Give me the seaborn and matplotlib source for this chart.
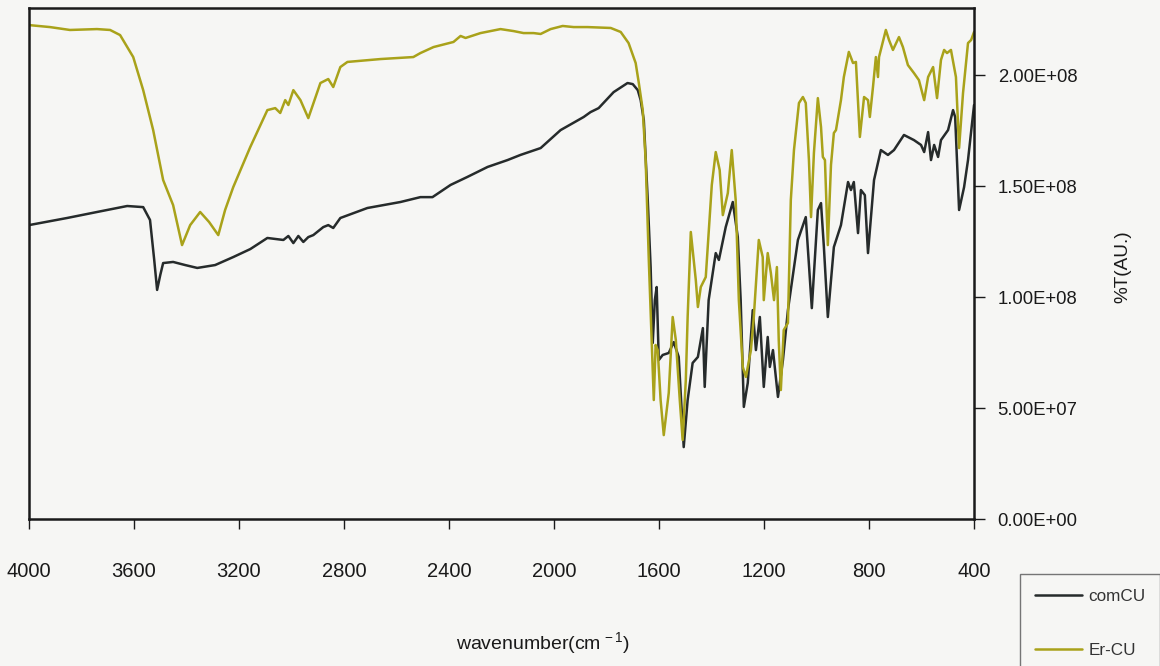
import matplotlib
matplotlib.use("Agg")
import matplotlib.pyplot as plt
import seaborn as sns
import pandas as pd
from matplotlib.ticker import FuncFormatter

# FTIR spectra: wavenumber (cm^-1) and transmittance (arbitrary units, x1e8)
com_wn = [4000, 3855, 3741, 3626, 3565, 3539, 3523, 3512, 3500, 3489, 3451, 3405,
          3359, 3291, 3222, 3157, 3092, 3031, 3012, 2993, 2974, 2955, 2936, 2917,
          2879, 2860, 2841, 2814, 2711, 2585, 2509, 2463, 2394, 2330, 2253, 2177,
          2128, 2051, 1975, 1887, 1861, 1830, 1773, 1720, 1700, 1681, 1670, 1658,
          1643, 1632, 1624, 1616, 1609, 1601, 1586, 1563, 1544, 1525, 1506, 1491,
          1472, 1452, 1433, 1426, 1411, 1384, 1372, 1346, 1319, 1300, 1289, 1277,
          1262, 1243, 1231, 1216, 1201, 1186, 1178, 1166, 1147, 1128, 1109, 1071,
          1041, 1018, 995, 983, 972, 957, 934, 907, 880, 869, 858, 842, 831, 816,
          804, 781, 755, 728, 705, 667, 629, 602, 590, 575, 564, 552, 537, 526,
          499, 480, 472, 457, 438, 423, 400]
com_t = [1.324, 1.356, 1.383, 1.410, 1.405, 1.347, 1.167, 1.032, 1.099, 1.153, 1.158, 1.144,
         1.131, 1.144, 1.180, 1.216, 1.266, 1.257, 1.275, 1.243, 1.275, 1.248, 1.270, 1.279,
         1.315, 1.324, 1.311, 1.356, 1.401, 1.428, 1.450, 1.450, 1.505, 1.541, 1.586, 1.617,
         1.640, 1.671, 1.752, 1.811, 1.833, 1.851, 1.923, 1.964, 1.959, 1.932, 1.887, 1.797,
         1.437, 1.135, 0.793, 0.986, 1.045, 0.716, 0.739, 0.748, 0.797, 0.730, 0.324, 0.536,
         0.703, 0.730, 0.860, 0.595, 0.986, 1.198, 1.167, 1.315, 1.428, 1.270, 0.986, 0.505,
         0.613, 0.941, 0.761, 0.910, 0.595, 0.820, 0.685, 0.761, 0.550, 0.716, 0.941, 1.257,
         1.360, 0.950, 1.392, 1.423, 1.225, 0.910, 1.225, 1.324, 1.518, 1.482, 1.518, 1.288,
         1.482, 1.459, 1.198, 1.527, 1.662, 1.640, 1.662, 1.730, 1.707, 1.685, 1.653, 1.743,
         1.617, 1.685, 1.631, 1.707, 1.752, 1.842, 1.811, 1.392, 1.495, 1.617, 1.865]

er_wn = [4000, 3920, 3844, 3741, 3691, 3653, 3603, 3565, 3527, 3489, 3451, 3417,
         3386, 3348, 3314, 3279, 3253, 3222, 3157, 3092, 3062, 3043, 3024, 3012,
         2993, 2966, 2936, 2890, 2860, 2841, 2814, 2787, 2661, 2536, 2509, 2459,
         2383, 2356, 2337, 2280, 2204, 2154, 2116, 2078, 2051, 2013, 1967, 1925,
         1872, 1784, 1746, 1716, 1689, 1677, 1662, 1651, 1639, 1628, 1620, 1613,
         1605, 1594, 1582, 1563, 1548, 1536, 1521, 1510, 1498, 1491, 1479, 1468,
         1460, 1452, 1441, 1422, 1411, 1399, 1384, 1369, 1357, 1338, 1323, 1308,
         1296, 1281, 1269, 1250, 1239, 1220, 1205, 1201, 1186, 1174, 1162, 1151,
         1144, 1136, 1125, 1109, 1098, 1086, 1067, 1052, 1041, 1029, 1021, 1010,
         995, 983, 976, 968, 957, 945, 934, 926, 907, 896, 877, 861, 850, 835,
         819, 804, 797, 785, 774, 766, 762, 736, 724, 709, 686, 671, 652, 629,
         610, 590, 575, 556, 541, 526, 514, 503, 488, 469, 457, 442, 423, 411, 400]
er_t = [2.225, 2.216, 2.203, 2.207, 2.203, 2.180, 2.081, 1.932, 1.752, 1.527, 1.414, 1.234,
        1.324, 1.383, 1.338, 1.279, 1.392, 1.495, 1.676, 1.842, 1.851, 1.829, 1.887, 1.865,
        1.932, 1.887, 1.806, 1.964, 1.982, 1.946, 2.036, 2.059, 2.072, 2.081, 2.099, 2.126,
        2.149, 2.176, 2.167, 2.189, 2.207, 2.198, 2.189, 2.189, 2.185, 2.207, 2.221, 2.216,
        2.216, 2.212, 2.194, 2.144, 2.054, 1.964, 1.842, 1.617, 1.167, 0.806, 0.536, 0.784,
        0.761, 0.536, 0.378, 0.568, 0.910, 0.806, 0.536, 0.356, 0.626, 0.910, 1.293, 1.167,
        1.077, 0.955, 1.045, 1.090, 1.288, 1.505, 1.653, 1.572, 1.369, 1.468, 1.662, 1.437,
        0.986, 0.685, 0.640, 0.761, 0.910, 1.257, 1.180, 0.986, 1.198, 1.108, 0.986, 1.135,
        0.806, 0.581, 0.851, 0.883, 1.437, 1.662, 1.874, 1.901, 1.874, 1.617, 1.360, 1.649,
        1.896, 1.766, 1.631, 1.617, 1.234, 1.595, 1.739, 1.752, 1.887, 1.991, 2.104, 2.054,
        2.059, 1.721, 1.901, 1.887, 1.811, 1.946, 2.081, 1.991, 2.081, 2.203, 2.158, 2.113,
        2.171, 2.126, 2.045, 2.009, 1.977, 1.887, 1.991, 2.036, 1.896, 2.068, 2.113, 2.099,
        2.113, 1.991, 1.671, 1.919, 2.144, 2.158, 2.194]

series_names = ["comCU", "Er-CU"]
x_ticks = [4000, 3600, 3200, 2800, 2400, 2000, 1600, 1200, 800, 400]
y_ticks = [0, 5e7, 1e8, 1.5e8, 2e8]

SCALE = 1e8
df = pd.concat([
    pd.DataFrame({"wavenumber": com_wn, "T": [v * SCALE for v in com_t], "sample": series_names[0]}),
    pd.DataFrame({"wavenumber": er_wn, "T": [v * SCALE for v in er_t], "sample": series_names[1]}),
], ignore_index=True)

sns.set_theme(style="white")
bg = "#f6f6f4"
plt.rcParams["font.family"] = ["Liberation Sans", "DejaVu Sans"]
plt.rcParams["mathtext.fontset"] = "custom"
plt.rcParams["mathtext.rm"] = "Liberation Sans"
plt.rcParams["mathtext.it"] = "Liberation Sans"

fig = plt.figure(figsize=(11.6, 6.66), dpi=100, facecolor=bg)
ax = fig.add_axes([0.025, 0.2207, 0.8147, 0.7673])
ax.set_facecolor(bg)

palette = {"comCU": "#262b2b", "Er-CU": "#a9a21a"}
sns.lineplot(data=df, x="wavenumber", y="T", hue="sample", palette=palette,
             hue_order=series_names, linewidth=1.8, estimator=None, sort=True,
             ax=ax, legend=True)

ax.set_xlim(4000, 400)
ax.set_ylim(0, 2.302e8)

for side in ["top", "bottom", "left", "right"]:
    ax.spines[side].set_visible(True)
    ax.spines[side].set_color("#1a1a1a")
    ax.spines[side].set_linewidth(1.8)

ax.set_xticks(x_ticks)
ax.set_xticklabels([str(t) for t in x_ticks])
ax.yaxis.tick_right()
ax.yaxis.set_label_position("right")
ax.set_yticks(y_ticks)
ax.yaxis.set_major_formatter(FuncFormatter(lambda v, p: f"{v:.2E}"))
ax.tick_params(axis="x", which="major", bottom=True, direction="out", length=7,
               width=1.0, pad=24, labelsize=14.5, colors="#1a1a1a")
ax.tick_params(axis="y", which="major", right=True, left=False, direction="out",
               length=8, width=1.0, pad=9, labelsize=13.3, colors="#1a1a1a")

ax.set_xlabel("wavenumber(cm$^{\\,-1}$)", fontsize=14, color="#1a1a1a")
ax.xaxis.set_label_coords(0.544, -0.2427)
ax.xaxis.label.set_verticalalignment("center")
ax.set_ylabel("%T(AU.)", fontsize=13.7, color="#1a1a1a")
ax.yaxis.set_label_coords(1.158, 0.493)
ax.yaxis.label.set_verticalalignment("center")

handles, labels = ax.get_legend_handles_labels()
ax.legend_.remove()
leg = fig.legend(handles, labels, loc="upper left",
                 bbox_to_anchor=(1020 / 1160, 1 - 574 / 666),
                 bbox_transform=fig.transFigure, borderaxespad=0,
                 frameon=True, fancybox=False, fontsize=12.3,
                 handlelength=2.8, handletextpad=0.35, labelspacing=2.3,
                 borderpad=0.85)
leg.get_frame().set_edgecolor("#555555")
leg.get_frame().set_linewidth(1.0)
leg.get_frame().set_facecolor(bg)
for text in leg.get_texts():
    text.set_color("#333333")

fig.savefig("out.png", dpi=100, facecolor=bg)
